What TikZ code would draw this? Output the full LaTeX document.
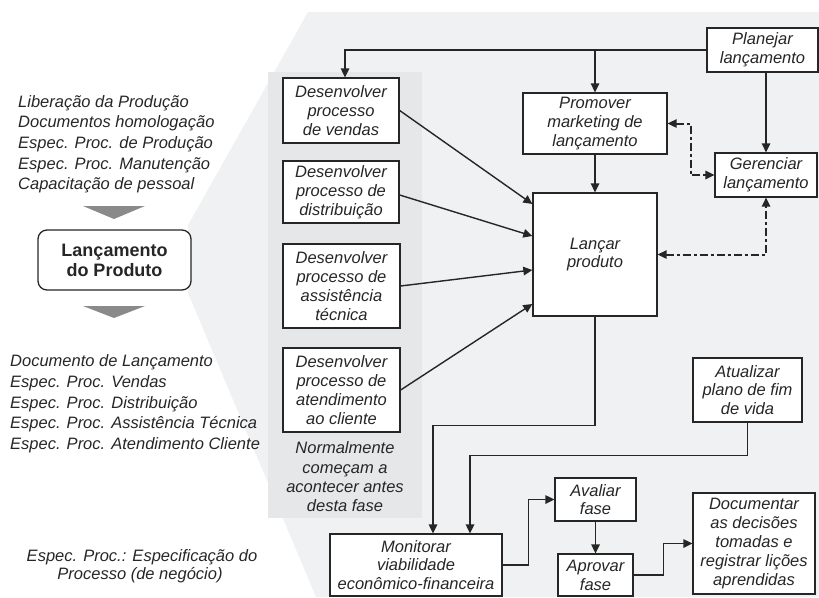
\documentclass[tikz,border=0pt]{standalone}
\usepackage{fontspec}
\setmainfont{Liberation Sans}
\usetikzlibrary{arrows.meta}
\definecolor{bg}{RGB}{240,241,243}
\definecolor{panel}{RGB}{230,231,233}
\definecolor{ink}{RGB}{38,38,38}
\definecolor{tri}{RGB}{138,138,138}
\begin{document}
\begin{tikzpicture}[x=1pt,y=-1pt,
 box/.style={draw=ink, fill=white, line width=1.3pt, inner sep=0pt, align=center, text=ink, font=\fontsize{16.5}{18.8}\selectfont\itshape},
 tip/.tip={Triangle[length=9pt,width=8.5pt]},
 arr/.style={draw=ink, line width=1.4pt, -tip},
 dline/.style={draw=ink, line width=2pt, dash pattern=on 8pt off 3pt on 3pt off 3pt, shorten <=8pt, shorten >=8pt},
 dtip/.style={draw=ink, line width=1.4pt, -tip},
 lt/.style={anchor=base west, inner sep=0pt, text=ink, font=\fontsize{16.5}{19}\selectfont\itshape},
 ct/.style={anchor=base, inner sep=0pt, text=ink, font=\fontsize{16.5}{19}\selectfont\itshape}]
\useasboundingbox (0,0) rectangle (819,597);
% background funnel
\fill[bg] (308,12) -- (819,12) -- (819,597) -- (316,597) -- (188,293) -- (188,225) -- cycle;
\fill[panel] (268,72) rectangle (422,518);

% left column
\node[lt] (u1) at (18,107) {Liberação da Produção};
\node[lt] (u2) at (18,127.7) {Documentos homologação};
\node[lt] (u3) at (18,148.4) {Espec. Proc. de Produção};
\node[lt] (u4) at (18,169.1) {Espec. Proc. Manutenção};
\node[lt] (u5) at (18,189.8) {Capacitação de pessoal};
\fill[tri] (83,206) -- (145,206) -- (114,219) -- cycle;
\node[draw=ink, fill=white, rounded corners=9pt, line width=1.3pt, minimum width=153pt, minimum height=60pt, inner sep=0pt, align=center, text=ink, font=\fontsize{18}{20}\selectfont\bfseries] (lp) at (114.5,260) {Lançamento\\do Produto};
\fill[tri] (83,306) -- (145,306) -- (114,318) -- cycle;
\node[lt] (d1) at (10,366) {Documento de Lançamento};
\node[lt] (d2) at (10,387) {Espec. Proc. Vendas};
\node[lt] (d3) at (10,408) {Espec. Proc. Distribuição};
\node[lt] (d4) at (10,428.7) {Espec. Proc. Assistência Técnica};
\node[lt] (d5) at (10,449.5) {Espec. Proc. Atendimento Cliente};
\node[ct] (n1) at (142,561) {Espec. Proc.: Especificação do};
\node[ct] (n2) at (140,579.5) {Processo (de negócio)};

% boxes
\node[box, minimum width=116pt, minimum height=65pt] (vend) at (341,110.5) {Desenvolver\\processo\\de vendas};
\node[box, minimum width=116pt, minimum height=62pt] (dist) at (341,192) {Desenvolver\\processo de\\distribuição};
\node[box, minimum width=117pt, minimum height=84pt] (assi) at (341.5,286) {Desenvolver\\processo de\\assistência\\técnica};
\node[box, minimum width=117pt, minimum height=84pt] (aten) at (341.5,390) {Desenvolver\\processo de\\atendimento\\ao cliente};
\node[align=center, inner sep=0pt, text=ink, font=\fontsize{16.5}{19.3}\selectfont\itshape] (nota) at (345,477) {Normalmente\\começam a\\acontecer antes\\desta fase};

\node[box, minimum width=124pt, minimum height=123pt] (lanc) at (595,254.5) {Lançar\\produto};
\node[box, minimum width=144pt, minimum height=61pt] (prom) at (595,123.5) {Promover\\marketing de\\lançamento};
\node[box, minimum width=111pt, minimum height=44pt] (plan) at (762.5,50) {Planejar\\lançamento};
\node[box, minimum width=102pt, minimum height=44pt] (gere) at (766,175) {Gerenciar\\lançamento};
\node[box, minimum width=109pt, minimum height=64pt] (atua) at (747.5,390) {Atualizar\\plano de fim\\de vida};
\node[box, minimum width=172pt, minimum height=62pt] (moni) at (416,565) {Monitorar\\viabilidade\\econômico-financeira};
\node[box, minimum width=81pt, minimum height=43pt] (aval) at (595.5,499.5) {Avaliar\\fase};
\node[box, minimum width=75pt, minimum height=42pt] (apro) at (595.5,575) {Aprovar\\fase};
\node[box, minimum width=122pt, minimum height=101pt] (docu) at (754,543.5) {Documentar\\as decisões\\tomadas e\\registrar lições\\aprendidas};

% connectors
\draw[arr] (plan.west) -| ([xshift=4pt]vend.north);
\draw[arr] (prom.north |- plan.west) -- (prom.north);
\draw[arr] (gere.north |- plan.south) -- (gere.north);
\draw[arr] (prom.south) -- (lanc.north);
% dash-dot two-way connectors
\draw[dline] (prom.east) -- ++(23,0) |- (gere.west);
\draw[dtip] ([xshift=10pt]prom.east) -- (prom.east);
\draw[dtip] ([xshift=-10pt]gere.west) -- (gere.west);
\draw[dline] (lanc.east) -| (gere.south);
\draw[dtip] ([xshift=10pt]lanc.east) -- (lanc.east);
\draw[dtip] ([yshift=-10pt]gere.south) -- (gere.south);
\draw[arr] (vend.east) -- ([yshift=50.5pt]lanc.west);
\draw[arr] ([yshift=-3pt]dist.east) -- ([yshift=18.5pt]lanc.west);
\draw[arr] (assi.east) -- ([yshift=-15.5pt]lanc.west);
\draw[arr] (aten.east) -- ([yshift=-49.5pt]lanc.west);
\draw[arr] (lanc.south) -- ++(0,109) -| ([xshift=17pt]moni.north);
\draw[arr] (atua.south) -- ++(0,33) -| ([xshift=54pt]moni.north);
\draw[arr] (moni.east) -- ++(26,0) |- (aval.west);
\draw[arr] (aval.south) -- (apro.north);
\draw[arr] (apro.east) -- ++(30,0) |- (docu.west);
\end{tikzpicture}
\end{document}
